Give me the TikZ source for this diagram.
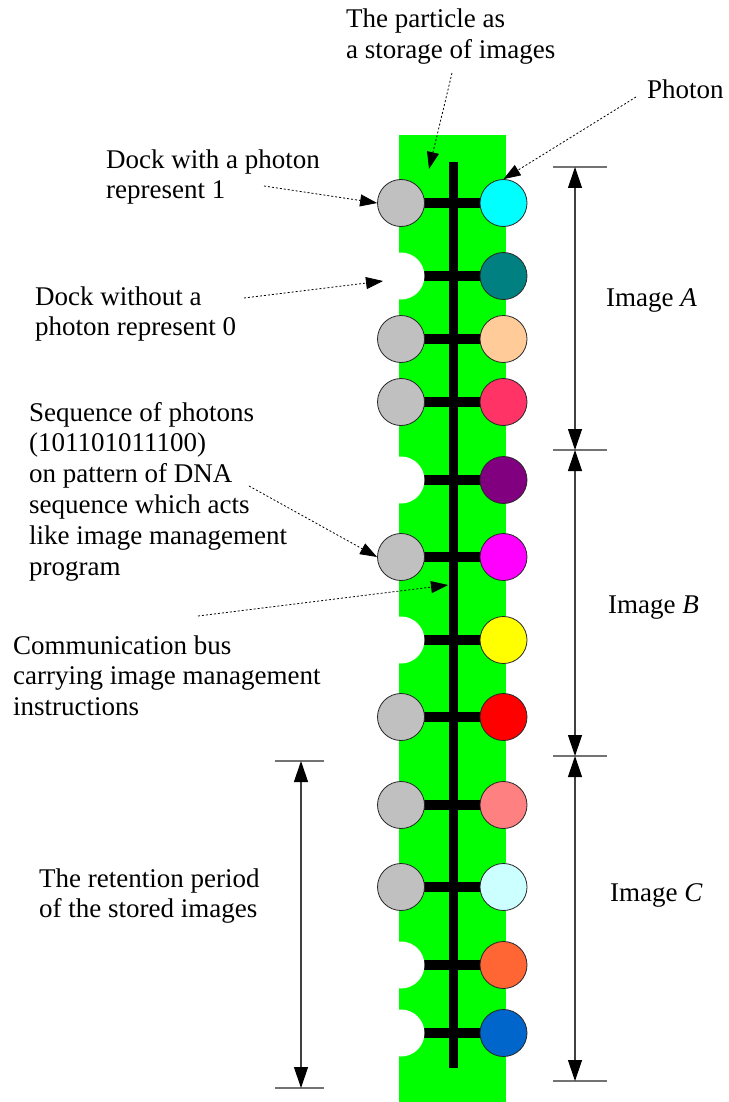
\documentclass[tikz,border=0pt]{standalone}
\usepackage{fontspec}
\setmainfont{Liberation Serif}
\usetikzlibrary{arrows.meta}

\definecolor{stripgreen}{HTML}{00FF00}
\definecolor{dockgray}{HTML}{C0C0C0}
\definecolor{phA}{HTML}{00FFFF}
\definecolor{phB}{HTML}{008080}
\definecolor{phC}{HTML}{FFCC99}
\definecolor{phD}{HTML}{FF3366}
\definecolor{phE}{HTML}{800080}
\definecolor{phF}{HTML}{FF00FF}
\definecolor{phG}{HTML}{FFFF00}
\definecolor{phH}{HTML}{FF0000}
\definecolor{phI}{HTML}{FF8080}
\definecolor{phJ}{HTML}{CCFFFF}
\definecolor{phK}{HTML}{FF6633}
\definecolor{phL}{HTML}{0066CC}

\begin{document}
\begin{tikzpicture}[x=1pt,y=-1pt,
  % multi-line labels are anchored at the baseline of their last line
  lbl/.style={font=\fontsize{27}{30.8}\selectfont, align=left, anchor=base west, inner sep=0pt},
  dock/.style={circle, draw=black!85, line width=0.8pt, fill=dockgray, minimum size=47pt, inner sep=0pt},
  gap/.style={circle, fill=white, minimum size=47pt, inner sep=0pt},
  photon/.style={circle, draw=black!85, line width=0.8pt, minimum size=47pt, inner sep=0pt},
  bar/.style={line width=10pt, black},
  bus/.style={line width=9pt, black},
  callout/.style={line width=0.8pt, dash pattern=on 2pt off 2pt, -{Triangle[length=17pt,width=12pt]}},
  dimline/.style={line width=1.2pt, draw=black!75,
    {Triangle[length=21pt,width=14pt,color=black]}-{Triangle[length=21pt,width=14pt,color=black]}},
  tickline/.style={line width=1.2pt, draw=black!55},
]
\useasboundingbox (0,0) rectangle (728,1102);

% green particle strip
\fill[stripgreen] (399,135) rectangle (506,1102);

% rungs of the ladder (left dock to photon)
\foreach \i/\y in {1/203,2/276,3/339,4/402,5/480,6/557,7/640,8/717,9/805,10/887,11/965,12/1033} {
  \coordinate (l\i) at (401,\y);
  \coordinate (r\i) at (503.5,\y);
  \draw[bar] (l\i) -- (r\i);
}

% communication bus
\coordinate (bustop) at (453.5,162);
\coordinate (busbot) at (453.5,1068);
\draw[bus] (bustop) -- (busbot);

% docks (1 = with photon, 0 = empty) and photons
\foreach \i/\bit/\col in {1/1/phA,2/0/phB,3/1/phC,4/1/phD,5/0/phE,6/1/phF,7/0/phG,8/1/phH,9/1/phI,10/1/phJ,11/0/phK,12/0/phL} {
  \ifnum\bit=1
    \node[dock] (d\i) at (l\i) {};
  \else
    \node[gap] (d\i) at (l\i) {};
  \fi
  \node[photon, fill=\col] (p\i) at (r\i) {};
}

% labels
\node[lbl] (tparticle) at (346,58.8) {The particle as\\a storage of images};
\node[lbl] (tphoton) at (647,99) {Photon};
\node[lbl] (tdock1) at (106,198.8) {Dock with a photon\\represent 1};
\node[lbl] (tdock0) at (35,335.8) {Dock without a\\photon represent 0};
\node[lbl] (tseq) at (29,575) {Sequence of photons\\(101101011100)\\on pattern of DNA\\sequence which acts\\like image management\\program};
\node[lbl] (tbus) at (13,715.6) {Communication bus\\carrying image management\\instructions};
\node[lbl] (tret) at (39,917.8) {The retention period\\of the stored images};
\node[lbl] (timgA) at (606,306) {Image \textit{A}};
\node[lbl] (timgB) at (608,613) {Image \textit{B}};
\node[lbl] (timgC) at (610,901) {Image \textit{C}};

% callout arrows
\coordinate (cpart) at (452,73);
\coordinate (cpartend) at (429,169);
\draw[callout] (cpart) -- (cpartend);
\coordinate (cphot) at (636,97);
\draw[callout] (cphot) -- (p1.north);
\coordinate (cd1) at (264,186);
\draw[callout] (cd1) -- (d1.west);
\coordinate (cd0) at (244,298);
\coordinate (cd0end) at (383,281);
\draw[callout] (cd0) -- (cd0end);
\coordinate (cseq) at (249,486);
\draw[callout] (cseq) -- (d6.west);
\coordinate (cbus) at (198,616);
\coordinate (cbusend) at (448,585);
\draw[callout] (cbus) -- (cbusend);

% image extents on the right
\coordinate (ra) at (575,167);
\coordinate (rb) at (575,450);
\coordinate (rc) at (575,756);
\coordinate (rd) at (575,1081);
\foreach \c in {ra,rb,rc,rd} {
  \draw[tickline] ([xshift=-22pt]\c) -- ([xshift=32pt]\c);
}
\draw[dimline] (ra) -- (rb);
\draw[dimline] (rb) -- (rc);
\draw[dimline] (rc) -- (rd);

% retention period on the left
\coordinate (la) at (301,761);
\coordinate (lb) at (301,1088);
\foreach \c in {la,lb} {
  \draw[tickline] ([xshift=-26pt]\c) -- ([xshift=23pt]\c);
}
\draw[dimline] (la) -- (lb);
\end{tikzpicture}
\end{document}
